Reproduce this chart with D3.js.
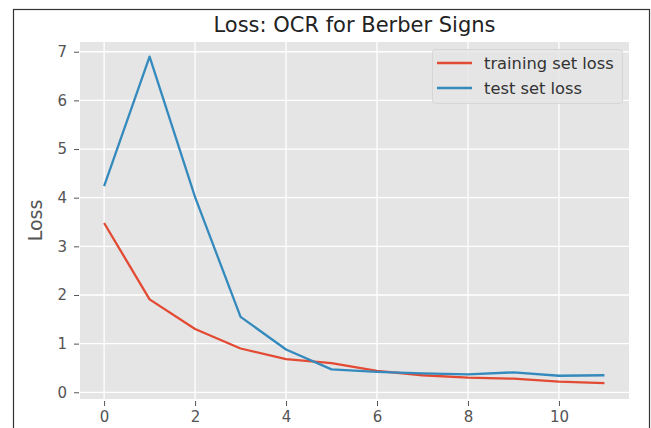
<!DOCTYPE html>
<html>
<head>
<meta charset="utf-8">
<script src="https://cdn.jsdelivr.net/npm/d3@7"></script>
<style>
  body { margin: 0; background: #fff; }
  text { font-family: "DejaVu Sans", sans-serif; }
</style>
</head>
<body>
<div class="grafico"></div>
<script>
// epochs + losses
const epochs = [0, 1, 2, 3, 4, 5, 6, 7, 8, 9, 10, 11];
const trainLoss = [3.48, 1.91, 1.30, 0.90, 0.68, 0.60, 0.44, 0.35, 0.30, 0.28, 0.22, 0.19];
const testLoss = [4.24, 6.90, 4.01, 1.55, 0.88, 0.47, 0.42, 0.39, 0.37, 0.41, 0.34, 0.35];
const xTicks = [0, 2, 4, 6, 8, 10];
const yTicks = [0, 1, 2, 3, 4, 5, 6, 7];
const seriesNames = ["training set loss", "test set loss"];

var width = 651, height = 428;
var plot = { left: 80, right: 629, top: 42, bottom: 399 };

let svg = d3.select(".grafico")
  .append("svg")
  .attr("width", width)
  .attr("height", height);

// screenshot frame
svg.append("rect")
  .attr("x", 13.5).attr("y", 9.5)
  .attr("width", 636).attr("height", 440)
  .attr("fill", "none")
  .attr("stroke", "#333")
  .attr("stroke-width", 1.2);

const x = d3.scaleLinear()
  .domain([-0.53, 11.54])
  .range([plot.left, plot.right]);

const y = d3.scaleLinear()
  .domain([-0.138, 7.2])
  .range([plot.bottom, plot.top]);

svg.append("rect")
  .attr("x", plot.left).attr("y", plot.top)
  .attr("width", plot.right - plot.left)
  .attr("height", plot.bottom - plot.top)
  .attr("fill", "#e5e5e5");

// grid
svg.append("g")
  .selectAll("line")
  .data(xTicks)
  .enter().append("line")
  .attr("x1", d => x(d)).attr("x2", d => x(d))
  .attr("y1", plot.top).attr("y2", plot.bottom)
  .attr("stroke", "#fff").attr("stroke-width", 1.3);

svg.append("g")
  .selectAll("line")
  .data(yTicks)
  .enter().append("line")
  .attr("x1", plot.left).attr("x2", plot.right)
  .attr("y1", d => y(d)).attr("y2", d => y(d))
  .attr("stroke", "#fff").attr("stroke-width", 1.3);

// axes
const xAxis = d3.axisBottom(x).tickValues(xTicks).tickSize(5).tickPadding(5);
const yAxis = d3.axisLeft(y).tickValues(yTicks).tickSize(5).tickPadding(7);

svg.append("g")
  .attr("class", "x axis")
  .attr("transform", "translate(0," + (plot.bottom + 2) + ")")
  .call(xAxis);

svg.append("g")
  .attr("class", "y axis")
  .attr("transform", "translate(" + (plot.left - 1) + ",0)")
  .call(yAxis);

svg.selectAll(".axis .domain").remove();
svg.selectAll(".axis .tick line").attr("stroke", "#555").attr("stroke-width", 1);
svg.selectAll(".axis text")
  .attr("fill", "#555")
  .style("font-size", "15px")
  .style("font-family", "DejaVu Sans, sans-serif");

// lines
const line = d3.line()
  .x((d, i) => x(epochs[i]))
  .y(d => y(d));

const colors = ["#E24A33", "#348ABD"];

[trainLoss, testLoss].forEach((s, i) => {
  svg.append("path")
    .datum(s)
    .attr("d", line)
    .attr("fill", "none")
    .attr("stroke", colors[i])
    .attr("stroke-width", 2.3)
    .attr("stroke-linejoin", "round");
});

// title + y label
svg.append("text")
  .attr("x", (plot.left + plot.right) / 2)
  .attr("y", 31.5)
  .attr("text-anchor", "middle")
  .attr("fill", "#222")
  .style("font-size", "21px")
  .text("Loss: OCR for Berber Signs");

svg.append("text")
  .attr("transform", "translate(42," + ((plot.top + plot.bottom) / 2) + ") rotate(-90)")
  .attr("text-anchor", "middle")
  .attr("fill", "#555")
  .style("font-size", "19px")
  .text("Loss");

// legend
const legend = svg.append("g").attr("transform", "translate(432,49)");
legend.append("rect")
  .attr("x", 0.5).attr("y", 0.5)
  .attr("width", 190).attr("height", 54)
  .attr("rx", 3)
  .attr("fill", "rgba(229,229,229,0.85)")
  .attr("stroke", "#d6d6d6");

const item = legend.selectAll(".item")
  .data(seriesNames)
  .enter().append("g")
  .attr("class", "item")
  .attr("transform", (d, i) => "translate(0," + (14 + i * 25) + ")");

item.append("line")
  .attr("x1", 5).attr("x2", 40)
  .attr("y1", 0).attr("y2", 0)
  .attr("stroke", (d, i) => colors[i])
  .attr("stroke-width", 2.3);

item.append("text")
  .attr("x", 52)
  .attr("y", 5.5)
  .attr("fill", "#333")
  .style("font-size", "16.3px")
  .text(d => d);
</script>
</body>
</html>
